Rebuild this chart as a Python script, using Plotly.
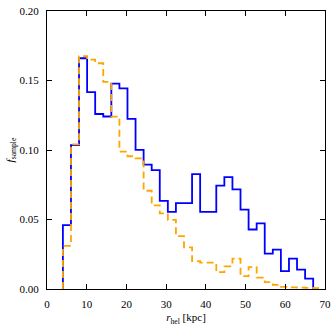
import numpy as np
import plotly.graph_objects as go

# histogram bins (kpc)
bin_start = 4.0
bin_width = 2.033

# fraction of sample per bin
blue_frac = [0.046, 0.1035, 0.166, 0.1416, 0.1259, 0.1241, 0.1478, 0.1444,
             0.1224, 0.1001, 0.0895, 0.0855, 0.0634, 0.0555, 0.0618, 0.0618,
             0.0826, 0.0555, 0.0555, 0.0744, 0.0805, 0.0717, 0.0571, 0.0428,
             0.0472, 0.0255, 0.0283, 0.0128, 0.0218, 0.014, 0.0075]
orange_frac = [0.031, 0.104, 0.1675, 0.165, 0.1624, 0.149, 0.124, 0.0989,
               0.0955, 0.094, 0.0707, 0.0601, 0.0544, 0.0497, 0.038, 0.030,
               0.020, 0.019, 0.019, 0.0121, 0.0163, 0.0218, 0.0093, 0.0158,
               0.0082, 0.005, 0.003, 0.0015, 0.0012, 0.001, 0.0008, 0.0006]

x_ticks = [0, 10, 20, 30, 40, 50, 60, 70]
y_ticks = [0.00, 0.05, 0.10, 0.15, 0.20]


def step_xy(vals):
    # matplotlib-style 'step' outline: up from zero, across bins, back to zero
    edges = bin_start + bin_width * np.arange(len(vals) + 1)
    xs = [edges[0]] + list(edges)
    ys = [0] + list(vals) + [0]
    return xs, ys


fig = go.Figure()

bx, by = step_xy(blue_frac)
fig.add_trace(go.Scatter(x=bx, y=by, mode='lines', line_shape='hv',
                         line=dict(color='#0000ff', width=1.8)))

ox, oy = step_xy(orange_frac)
fig.add_trace(go.Scatter(x=ox, y=oy, mode='lines', line_shape='hv',
                         line=dict(color='#ffa500', width=1.8, dash='7px,4px')))

serif = dict(family='Liberation Serif', size=11, color='black')
axis_style = dict(showline=True, linecolor='black', linewidth=1.2, mirror='ticks',
                  ticks='inside', ticklen=5, tickwidth=1, tickcolor='black',
                  showgrid=False, zeroline=False, tickfont=serif,
                  ticklabeloverflow='allow')

fig.update_xaxes(range=[0, 70], tickvals=x_ticks, ticklabelstandoff=5,
                 title=dict(text='<i>r</i><sub>hel</sub> [kpc]', standoff=4, font=serif),
                 **axis_style)
fig.update_yaxes(range=[0, 0.20], tickvals=y_ticks, tickformat='.2f', ticklabelstandoff=5,
                 title=dict(text='<i>f</i><sub>sample</sub>', standoff=2, font=serif),
                 **axis_style)

fig.update_layout(width=336, height=327, showlegend=False,
                  plot_bgcolor='white', paper_bgcolor='white',
                  margin=dict(l=47, r=11, t=5, b=34))

fig.write_html("out.html", config={'displayModeBar': False},
               post_script="document.body.style.margin='0px';document.body.style.overflow='hidden';")
